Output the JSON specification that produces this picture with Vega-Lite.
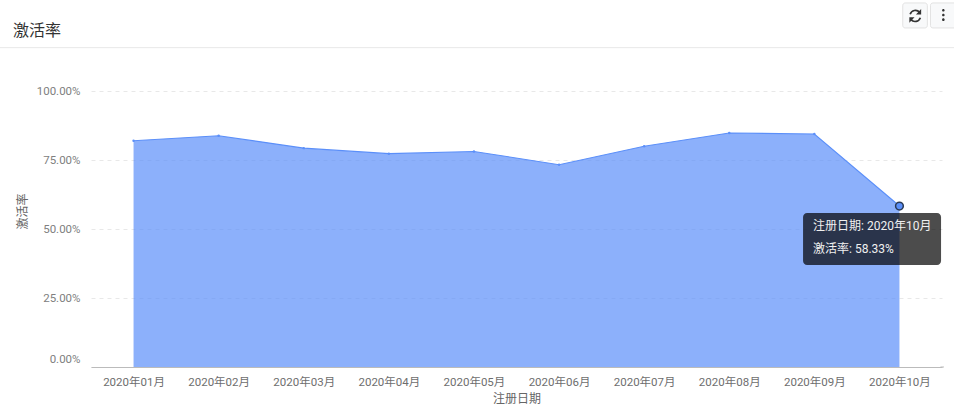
{"$schema":"https://vega.github.io/schema/vega-lite/v6.json","width":851,"height":276,"autosize":{"type":"none"},"padding":{"left":91,"top":91,"right":12,"bottom":45},"background":"white","title":{"text":"激活率","anchor":"start","frame":"group","dx":-78,"dy":46,"offset":0,"baseline":"middle","font":"Roboto, Noto Sans CJK SC","fontSize":16,"fontWeight":"normal","color":"#333333"},"config":{"view":{"stroke":null},"font":"Roboto, Noto Sans CJK SC"},"data":{"values":[{"date":"2020年01月","rate":0.82},{"date":"2020年02月","rate":0.838},{"date":"2020年03月","rate":0.793},{"date":"2020年04月","rate":0.773},{"date":"2020年05月","rate":0.781},{"date":"2020年06月","rate":0.733},{"date":"2020年07月","rate":0.8},{"date":"2020年08月","rate":0.848},{"date":"2020年09月","rate":0.844},{"date":"2020年10月","rate":0.5833}]},"encoding":{"x":{"field":"date","type":"ordinal","sort":null,"scale":{"type":"point","padding":0.5},"axis":{"title":"注册日期","titleFontSize":12,"titleFontWeight":"normal","titleColor":"#666666","titlePadding":6,"labelAngle":0,"labelFontSize":11.5,"labelColor":"#6e6e6e","labelPadding":9,"ticks":false,"domainColor":"#bbbbbb","grid":false}},"y":{"field":"rate","type":"quantitative","scale":{"domain":[0,1],"nice":false},"axis":{"title":"激活率","titleFontSize":12,"titleFontWeight":"normal","titleColor":"#666666","titleX":-62,"titleY":120,"format":".2%","values":[0,0.25,0.5,0.75,1],"labelFontSize":11.5,"labelColor":"#808080","labelPadding":11,"labelOffset":{"condition":{"test":"datum.value===0","value":-8},"value":0},"ticks":false,"domain":false,"grid":true,"gridColor":"#e8e8e8","gridDash":[4,4]}}},"layer":[{"mark":{"type":"area","color":"#5b8ff9","opacity":0.7}},{"mark":{"type":"line","color":"#5b8ff9","strokeWidth":1.1}},{"mark":{"type":"point","filled":true,"color":"#5b8ff9","size":6,"opacity":1}},{"data":{"values":[{"date":"2020年10月","rate":0.5833}]},"mark":{"type":"point","filled":true,"fill":"#5b8ff9","stroke":"#2b3a55","strokeWidth":1.5,"size":60,"opacity":1}},{"data":{"values":[{"date":"2020年10月","rate":0.5833,"line1":"注册日期: 2020年10月","line2":"激活率: 58.33%"}]},"layer":[{"mark":{"type":"point","filled":true,"fill":"#000000","fillOpacity":0.7,"strokeWidth":0,"size":4,"shape":"M-92.4,7H37.6A4,4 0 0 1 41.6,11V55A4,4 0 0 1 37.6,59H-92.4A4,4 0 0 1 -96.4,55V11A4,4 0 0 1 -92.4,7Z"}},{"mark":{"type":"text","align":"left","baseline":"middle","dx":-86.4,"dy":20,"fontSize":12,"color":"#f0f0f0"},"encoding":{"text":{"field":"line1"}}},{"mark":{"type":"text","align":"left","baseline":"middle","dx":-86.4,"dy":42.5,"fontSize":12,"color":"#f0f0f0"},"encoding":{"text":{"field":"line2"}}},{"mark":{"type":"point","filled":false,"stroke":"#bbbbbb","strokeWidth":1,"opacity":1,"size":4,"shape":"M41,161H44.5"}}]},{"data":{"values":[{"date":"2020年10月","rate":1.157}]},"layer":[{"mark":{"type":"point","filled":false,"stroke":"#e8e8e8","strokeWidth":1,"opacity":1,"size":4,"shape":"M-900,0H55"}},{"mark":{"type":"point","filled":true,"fill":"#f8f9fa","stroke":"#e2e2e2","strokeWidth":1,"opacity":1,"size":4,"shape":"M5.8,-44.7H25.4A2.5,2.5 0 0 1 27.9,-42.2V-22.2A2.5,2.5 0 0 1 25.4,-19.7H5.8A2.5,2.5 0 0 1 3.3,-22.2V-42.2A2.5,2.5 0 0 1 5.8,-44.7Z"}},{"mark":{"type":"point","filled":true,"fill":"#f8f9fa","stroke":"#e2e2e2","strokeWidth":1,"opacity":1,"size":4,"shape":"M33.5,-44.7H62A2.5,2.5 0 0 1 64.5,-42.2V-22.2A2.5,2.5 0 0 1 62,-19.7H33.5A2.5,2.5 0 0 1 31,-22.2V-42.2A2.5,2.5 0 0 1 33.5,-44.7Z"}},{"mark":{"type":"point","filled":false,"stroke":"#333333","strokeWidth":1.7,"opacity":1,"size":4,"shape":"M10.7,-33.5A5.6,5.6 0 0 1 20.1,-35.5M20.9,-30A5.6,5.6 0 0 1 11.5,-28"}},{"mark":{"type":"point","filled":true,"fill":"#333333","strokeWidth":0,"opacity":1,"size":4,"shape":"M21.7,-38.6V-33.2H16.5ZM9.9,-24.9V-30.3H15.1Z"}},{"mark":{"type":"point","filled":true,"fill":"#333333","strokeWidth":0,"opacity":1,"size":4,"shape":"M42.6,-37.4A1.3,1.3 0 1 1 45.2,-37.4A1.3,1.3 0 1 1 42.6,-37.4ZM42.6,-32.7A1.3,1.3 0 1 1 45.2,-32.7A1.3,1.3 0 1 1 42.6,-32.7ZM42.6,-28A1.3,1.3 0 1 1 45.2,-28A1.3,1.3 0 1 1 42.6,-28Z"}}]}]}
